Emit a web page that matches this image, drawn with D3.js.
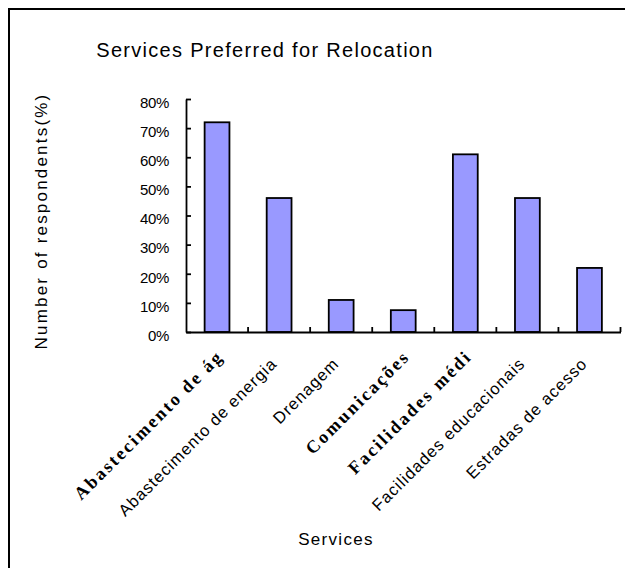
<!DOCTYPE html>
<html>
<head>
<meta charset="utf-8">
<script src="https://cdn.jsdelivr.net/npm/d3@7"></script>
<style>
  body { margin: 0; background: #fff; }
</style>
</head>
<body>
<div id="plot"></div>
<script>
// chart data
const categories = [
  'Abastecimento de ág',
  'Abastecimento de energia',
  'Drenagem',
  'Comunicações',
  'Facilidades médi',
  'Facilidades educacionais',
  'Estradas de acesso'
];
const values = [72, 46, 11, 7.5, 61, 46, 22];
const yTicks = [0, 10, 20, 30, 40, 50, 60, 70, 80];

const title = 'Services Preferred for Relocation';
const xTitle = 'Services';
const yTitle = 'Number of respondents(%)';

// these labels come out in a bold serif face in the original
const boldLabels = new Set([0, 3, 4]);

let width = 625, height = 568;
let margin = { top: 99, bottom: 236, left: 186, right: 4 };

let svg = d3.select('#plot')
  .append('svg')
  .attr('width', width)
  .attr('height', height)
  .style('background', '#fff');

// frame (only the top and left edges show inside the picture)
svg.append('rect')
  .attr('x', 9).attr('y', 9)
  .attr('width', 700).attr('height', 700)
  .attr('fill', 'none')
  .attr('stroke', '#000')
  .attr('stroke-width', 2);

let yScale = d3.scaleLinear()
  .domain([0, 80])
  .range([height - margin.bottom, margin.top]);

let xScale = d3.scaleBand()
  .domain(categories)
  .range([margin.left, width - margin.right - 0.5])
  .paddingInner(0.6)
  .paddingOuter(0.3);

// bars
svg.selectAll('rect.bar')
  .data(values)
  .enter()
  .append('rect')
  .attr('class', 'bar')
  .attr('x', (d, i) => xScale(categories[i]))
  .attr('y', d => yScale(d))
  .attr('width', xScale.bandwidth())
  .attr('height', d => yScale(0) - yScale(d))
  .attr('fill', '#9999ff')
  .attr('stroke', '#000')
  .attr('stroke-width', 1.8);

// y axis, ticks pointing inward
let yAxis = svg.append('g')
  .attr('transform', `translate(${margin.left},0)`)
  .call(d3.axisLeft(yScale)
    .tickValues(yTicks)
    .tickFormat(d => d + '%')
    .tickSizeInner(-5)
    .tickSizeOuter(0)
    .tickPadding(17));

yAxis.selectAll('text')
  .attr('dy', '0.55em')
  .style('font-family', '"Liberation Sans", Arial, sans-serif')
  .style('font-size', '15px')
  .style('letter-spacing', '-0.3px')
  .attr('fill', '#000');

// x axis: ticks sit between categories
let step = xScale.step();
let xAxis = svg.append('g')
  .attr('transform', `translate(0,${yScale(0)})`)
  .call(d3.axisBottom(xScale).tickSize(0).tickPadding(0));

svg.append('g')
  .selectAll('line')
  .data(categories)
  .enter()
  .append('line')
  .attr('x1', d => xScale(d) + xScale.bandwidth() / 2 + step / 2)
  .attr('x2', d => xScale(d) + xScale.bandwidth() / 2 + step / 2)
  .attr('y1', yScale(0))
  .attr('y2', yScale(0) - 5)
  .attr('stroke', '#000')
  .attr('stroke-width', 1.8);

xAxis.selectAll('.tick text')
  .attr('x', 0)
  .attr('y', 0)
  .attr('dy', '0.75em')
  .attr('text-anchor', 'end')
  .attr('fill', '#000')
  .attr('transform', (d, i) => boldLabels.has(i)
    ? 'translate(-2,16) rotate(-45)'
    : 'translate(-10,24) rotate(-45)')
  .style('font-family', (d, i) => boldLabels.has(i)
    ? '"Liberation Serif", "Times New Roman", serif'
    : '"Liberation Sans", Arial, sans-serif')
  .style('font-weight', (d, i) => boldLabels.has(i) ? 'bold' : 'normal')
  .style('font-size', (d, i) => boldLabels.has(i) ? '18px' : '16.5px')
  .style('letter-spacing', (d, i) => boldLabels.has(i) ? '2.3px' : '1px');

svg.selectAll('.domain')
  .attr('stroke', '#000')
  .attr('stroke-width', 1.8);
yAxis.selectAll('.tick line')
  .attr('stroke', '#000')
  .attr('stroke-width', 1.8);

// titles
svg.append('text')
  .attr('x', 265)
  .attr('y', 57)
  .attr('text-anchor', 'middle')
  .style('font-family', '"Liberation Sans", Arial, sans-serif')
  .style('font-size', '20px')
  .style('letter-spacing', '1.3px')
  .text(title);

svg.append('text')
  .attr('x', 336)
  .attr('y', 545)
  .attr('text-anchor', 'middle')
  .style('font-family', '"Liberation Sans", Arial, sans-serif')
  .style('font-size', '17px')
  .style('letter-spacing', '1.3px')
  .text(xTitle);

svg.append('text')
  .attr('transform', 'translate(47,221) rotate(-90)')
  .attr('text-anchor', 'middle')
  .style('font-family', '"Liberation Sans", Arial, sans-serif')
  .style('font-size', '17px')
  .style('letter-spacing', '2.2px')
  .text(yTitle);
</script>
</body>
</html>
